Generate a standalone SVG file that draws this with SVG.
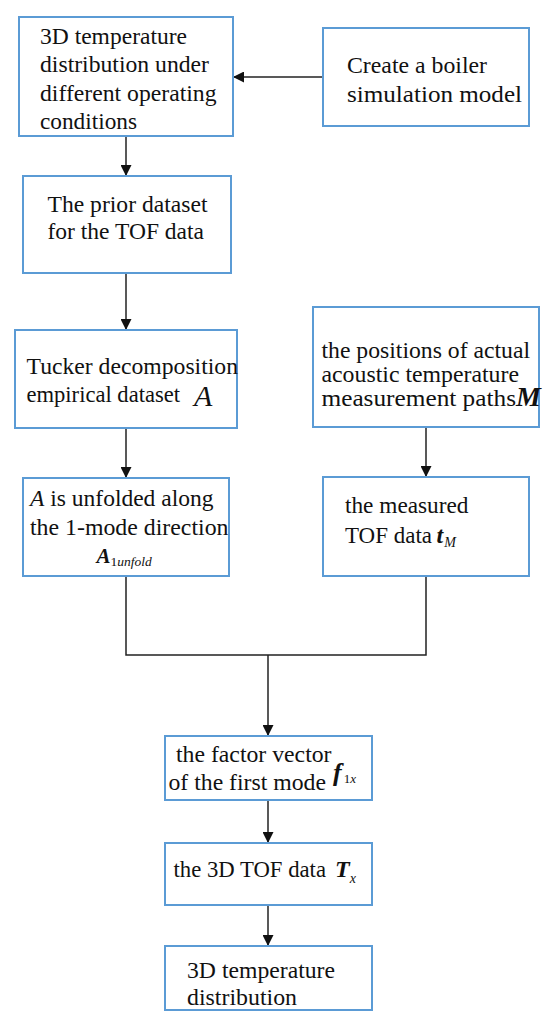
<svg xmlns="http://www.w3.org/2000/svg" width="550" height="1022" viewBox="0 0 550 1022">
<defs>
<marker id="arr" markerUnits="userSpaceOnUse" markerWidth="11" markerHeight="11" viewBox="0 0 11 11" refX="11" refY="5.5" orient="auto">
<path d="M0,0 L11,5.5 L0,11 z" fill="#111"/>
</marker>
</defs>
<style>
.box{fill:#fff;stroke:#5b9bd5;stroke-width:2}
.t{font-family:"Liberation Serif","Times New Roman",serif;font-size:23.5px;fill:#111}
.i{font-style:italic}
.bi{font-style:italic;font-weight:bold}
.c{fill:none;stroke:#222;stroke-width:1.5}
</style>
<rect width="550" height="1022" fill="#fff"/>
<g id="connectors">
<line class="c" x1="323" y1="77" x2="233" y2="77" marker-end="url(#arr)"/>
<line class="c" x1="126" y1="136" x2="126" y2="176" marker-end="url(#arr)"/>
<line class="c" x1="126" y1="273" x2="126" y2="330" marker-end="url(#arr)"/>
<line class="c" x1="126" y1="428" x2="126" y2="478" marker-end="url(#arr)"/>
<line class="c" x1="426" y1="427" x2="426" y2="477" marker-end="url(#arr)"/>
<path class="c" d="M126,576 V655 H426 V576"/>
<line class="c" x1="268" y1="655" x2="268" y2="736" marker-end="url(#arr)"/>
<line class="c" x1="268" y1="800" x2="268" y2="843" marker-end="url(#arr)"/>
<line class="c" x1="268" y1="905" x2="268" y2="946" marker-end="url(#arr)"/>
</g>
<g id="n1">
<rect class="box" x="19" y="17" width="214" height="119"/>
<text class="t" x="40" y="43.5" textLength="147" lengthAdjust="spacingAndGlyphs">3D temperature</text>
<text class="t" x="40" y="72" textLength="169" lengthAdjust="spacingAndGlyphs">distribution under</text>
<text class="t" x="40" y="100.5" textLength="176.5" lengthAdjust="spacingAndGlyphs">different operating</text>
<text class="t" x="40" y="129" textLength="97" lengthAdjust="spacingAndGlyphs">conditions</text>
</g>
<g id="n2">
<rect class="box" x="323" y="28" width="206" height="98"/>
<text class="t" x="347" y="73" textLength="140" lengthAdjust="spacingAndGlyphs">Create a boiler</text>
<text class="t" x="347" y="101.5" textLength="175" lengthAdjust="spacingAndGlyphs">simulation model</text>
</g>
<g id="n3">
<rect class="box" x="23" y="176" width="208" height="97"/>
<text class="t" x="47.5" y="211.5" textLength="160" lengthAdjust="spacingAndGlyphs">The prior dataset</text>
<text class="t" x="47.5" y="238.5" textLength="156.5" lengthAdjust="spacingAndGlyphs">for the TOF data</text>
</g>
<g id="n4">
<rect class="box" x="15" y="330" width="222" height="98"/>
<text class="t" x="26.5" y="374" textLength="211.5" lengthAdjust="spacingAndGlyphs">Tucker decomposition</text>
<text class="t" x="26.5" y="401.5" textLength="153.5" lengthAdjust="spacingAndGlyphs">empirical dataset</text>
<text class="t i" x="194" y="406" style="font-size:30px">A</text>
</g>
<g id="n5">
<rect class="box" x="313" y="307" width="226" height="120"/>
<text class="t" x="321.5" y="358" textLength="208.5" lengthAdjust="spacingAndGlyphs">the positions of actual</text>
<text class="t" x="321.5" y="382" textLength="197.5" lengthAdjust="spacingAndGlyphs">acoustic temperature</text>
<text class="t" x="321.5" y="406" textLength="194.5" lengthAdjust="spacingAndGlyphs">measurement paths</text>
<text class="t bi" x="516" y="406" style="font-size:28px">M</text>
</g>
<g id="n6">
<rect class="box" x="23" y="478" width="206" height="98"/>
<text class="t" x="30" y="506" textLength="183.5" lengthAdjust="spacingAndGlyphs"><tspan class="i">A</tspan> is unfolded along</text>
<text class="t" x="30" y="535" textLength="198.5" lengthAdjust="spacingAndGlyphs">the 1-mode direction</text>
<text class="t bi" x="96.5" y="563" style="font-size:21px">A<tspan style="font-size:13.5px;font-weight:normal;font-style:normal" dy="3">1</tspan><tspan style="font-size:13.5px;font-weight:normal" class="i">unfold</tspan></text>
</g>
<g id="n7">
<rect class="box" x="323" y="477" width="206" height="99"/>
<text class="t" x="345" y="513" textLength="123.5" lengthAdjust="spacingAndGlyphs">the measured</text>
<text class="t" x="345" y="543" textLength="87" lengthAdjust="spacingAndGlyphs">TOF data</text>
<text class="t bi" x="436.5" y="543" style="font-size:24px">t<tspan style="font-size:14px;font-weight:normal" dx="1" dy="4">M</tspan></text>
</g>
<g id="n8">
<rect class="box" x="165" y="736" width="207" height="64"/>
<text class="t" x="176" y="762" textLength="155.5" lengthAdjust="spacingAndGlyphs">the factor vector</text>
<text class="t" x="168.5" y="790" textLength="157.5" lengthAdjust="spacingAndGlyphs">of the first mode</text>
<text class="t bi" x="333" y="781" style="font-size:26px">f<tspan style="font-size:13px;font-weight:normal;font-style:normal" dx="2" dy="2">1</tspan><tspan style="font-size:13px;font-weight:normal" class="i">x</tspan></text>
</g>
<g id="n9">
<rect class="box" x="165" y="843" width="207" height="62"/>
<text class="t" x="173.5" y="877" textLength="152.5" lengthAdjust="spacingAndGlyphs">the 3D TOF data</text>
<text class="t bi" x="335" y="877" style="font-size:24px">T<tspan style="font-size:14px;font-weight:normal" dx="0" dy="6">x</tspan></text>
</g>
<g id="n10">
<rect class="box" x="165" y="946" width="207" height="64"/>
<text class="t" x="187" y="978" textLength="148" lengthAdjust="spacingAndGlyphs">3D temperature</text>
<text class="t" x="187" y="1005" textLength="110" lengthAdjust="spacingAndGlyphs">distribution</text>
</g>
</svg>
